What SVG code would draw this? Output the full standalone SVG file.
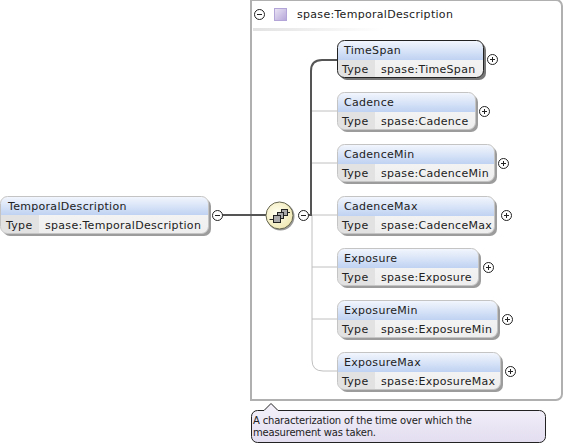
<svg xmlns="http://www.w3.org/2000/svg" width="564" height="446" viewBox="0 0 564 446">
<defs>
<linearGradient id="h" x1="0" y1="0" x2="0" y2="1"><stop offset="0" stop-color="#f2f6fd"/><stop offset="1" stop-color="#bfd2f2"/></linearGradient>
<linearGradient id="b" x1="0" y1="0" x2="0" y2="1"><stop offset="0" stop-color="#f8f8f8"/><stop offset="1" stop-color="#eeeeee"/></linearGradient>
<radialGradient id="s" cx="0.4" cy="0.4" r="0.7"><stop offset="0" stop-color="#fffff0"/><stop offset="1" stop-color="#efe6ae"/></radialGradient>
<linearGradient id="p" x1="0" y1="0" x2="1" y2="1"><stop offset="0" stop-color="#ebe5f5"/><stop offset="1" stop-color="#b4a5d8"/></linearGradient>
<linearGradient id="n" x1="0" y1="0" x2="0" y2="1"><stop offset="0" stop-color="#f4f1fa"/><stop offset="1" stop-color="#e3ddf0"/></linearGradient>
<linearGradient id="f" x1="0" y1="0" x2="1" y2="0"><stop offset="0" stop-color="#e2e2e2"/><stop offset="1" stop-color="#ffffff"/></linearGradient>
</defs>
<style>
text{font-family:"DejaVu Sans",sans-serif;font-size:11px;fill:#222;letter-spacing:.3px}
.sh{fill:#9c9c9c}
.bd{fill:url(#b)}
.hd{fill:url(#h)}
.ty{fill:#e2e2e2}
.o{fill:none;stroke:#c4c4c4;stroke-width:1}
.ob{fill:none;stroke:#222;stroke-width:1}
.c{fill:none;stroke:#c0c0c0;stroke-width:1}
.cb{fill:none;stroke:#555;stroke-width:2}
.tg{fill:#fff;stroke:#222;stroke-width:1}
.m{stroke:#222;stroke-width:1;fill:none}
.nt{font-size:10px;letter-spacing:-.18px}
</style>
<path d="M251 -1V400H556a6 6 0 0 0 6-6V6a6 6 0 0 0-6-6H251" fill="#fff" stroke="#b0b0b0" stroke-width="2"/>
<rect x="253" y="28" width="130" height="3" fill="url(#f)"/>
<g id="connectors">
<path class="cb" d="M222 215H266"/>
<path class="c" d="M311 215H338"/>
<path class="c" d="M312 111H338M312 163H338M312 267H338M312 319H338"/>
<path class="c" d="M312 215V360Q312 371 323 371H338"/>
<path class="cb" d="M308 215H311V71Q311 60 322 60H338"/>
</g>
<g id="panel-title">
<circle class="tg" cx="259.500" cy="14.500" r="5"/><path class="m" d="M257 14.500H262"/>
<rect x="274.500" y="8.500" width="12" height="12" fill="url(#p)" stroke="#b4a5d8"/>
<text x="297" y="18">spase:TemporalDescription</text>
</g>
<g id="n-TemporalDescription">
<rect class="sh" x="3" y="199" width="208" height="37" rx="7"/>
<rect class="bd" x="0.500" y="196.500" width="208" height="37" rx="7"/>
<path class="hd" d="M1 215V203.500a6.500 6.500 0 0 1 6.500-6.500H201.500a6.500 6.500 0 0 1 6.500 6.500V215Z"/>
<path class="ty" d="M1 215H39V233H7.500a6.500 6.500 0 0 1-6.500-6.500Z"/>
<rect class="o" x="0.500" y="196.500" width="208" height="37" rx="7"/>
<text x="8" y="210">TemporalDescription</text><text x="6" y="229">Type</text><text x="45" y="229">spase:TemporalDescription</text>
<circle class="tg" cx="217.500" cy="215.500" r="5"/><path class="m" d="M215 215.500H220"/>
</g>
<g id="sequence">
<circle cx="280.500" cy="216.500" r="14" fill="#999"/>
<circle cx="279.500" cy="215.500" r="13.500" fill="url(#s)" stroke="#666650"/>
<path d="M269.500 219.500H273M281 214.500H283M287 212.500H290" stroke="#222"/>
<rect x="281.500" y="209.500" width="6" height="6" fill="#aaa" stroke="#222"/>
<rect x="277.500" y="212.500" width="6" height="6" fill="#aaa" stroke="#222"/>
<rect x="273.500" y="215.500" width="7" height="7" fill="#aaa" stroke="#222"/>
<circle class="tg" cx="303.500" cy="215.500" r="5"/><path class="m" d="M301 215.500H306"/>
</g>
<g id="n-TimeSpan">
<rect fill="#777" x="340" y="43" width="146" height="37" rx="7"/>
<rect class="bd" x="337.500" y="40.500" width="146" height="37" rx="7"/>
<path class="hd" d="M338 60V47.500a6.500 6.500 0 0 1 6.500-6.500H476.500a6.500 6.500 0 0 1 6.500 6.500V60Z"/>
<path class="ty" d="M338 60H375V77H344.500a6.500 6.500 0 0 1-6.500-6.500Z"/>
<rect class="ob" x="337.500" y="40.500" width="146" height="37" rx="7"/>
<text x="344" y="54">TimeSpan</text><text x="342" y="73">Type</text><text x="381" y="73">spase:TimeSpan</text>
<circle class="tg" cx="492.500" cy="59.500" r="5"/><path class="m" d="M490 59.500H495M492.500 57V62"/>
</g>
<g id="n-Cadence">
<rect class="sh" x="340" y="95" width="138" height="37" rx="7"/>
<rect class="bd" x="337.500" y="92.500" width="138" height="37" rx="7"/>
<path class="hd" d="M338 112V99.500a6.500 6.500 0 0 1 6.500-6.500H468.500a6.500 6.500 0 0 1 6.500 6.500V112Z"/>
<path class="ty" d="M338 112H375V129H344.500a6.500 6.500 0 0 1-6.500-6.500Z"/>
<rect class="o" x="337.500" y="92.500" width="138" height="37" rx="7"/>
<text x="344" y="106">Cadence</text><text x="342" y="125">Type</text><text x="381" y="125">spase:Cadence</text>
<circle class="tg" cx="484.500" cy="111.500" r="5"/><path class="m" d="M482 111.500H487M484.500 109V114"/>
</g>
<g id="n-CadenceMin">
<rect class="sh" x="340" y="147" width="157" height="37" rx="7"/>
<rect class="bd" x="337.500" y="144.500" width="157" height="37" rx="7"/>
<path class="hd" d="M338 164V151.500a6.500 6.500 0 0 1 6.500-6.500H487.500a6.500 6.500 0 0 1 6.500 6.500V164Z"/>
<path class="ty" d="M338 164H375V181H344.500a6.500 6.500 0 0 1-6.500-6.500Z"/>
<rect class="o" x="337.500" y="144.500" width="157" height="37" rx="7"/>
<text x="344" y="158">CadenceMin</text><text x="342" y="177">Type</text><text x="381" y="177">spase:CadenceMin</text>
<circle class="tg" cx="503.500" cy="163.500" r="5"/><path class="m" d="M501 163.500H506M503.500 161V166"/>
</g>
<g id="n-CadenceMax">
<rect class="sh" x="340" y="199" width="157" height="37" rx="7"/>
<rect class="bd" x="337.500" y="196.500" width="157" height="37" rx="7"/>
<path class="hd" d="M338 216V203.500a6.500 6.500 0 0 1 6.500-6.500H487.500a6.500 6.500 0 0 1 6.500 6.500V216Z"/>
<path class="ty" d="M338 216H375V233H344.500a6.500 6.500 0 0 1-6.500-6.500Z"/>
<rect class="o" x="337.500" y="196.500" width="157" height="37" rx="7"/>
<text x="344" y="210">CadenceMax</text><text x="342" y="229">Type</text><text x="381" y="229">spase:CadenceMax</text>
<circle class="tg" cx="506.500" cy="215.500" r="5"/><path class="m" d="M504 215.500H509M506.500 213V218"/>
</g>
<g id="n-Exposure">
<rect class="sh" x="340" y="251" width="141" height="37" rx="7"/>
<rect class="bd" x="337.500" y="248.500" width="141" height="37" rx="7"/>
<path class="hd" d="M338 268V255.500a6.500 6.500 0 0 1 6.500-6.500H471.500a6.500 6.500 0 0 1 6.500 6.500V268Z"/>
<path class="ty" d="M338 268H375V285H344.500a6.500 6.500 0 0 1-6.500-6.500Z"/>
<rect class="o" x="337.500" y="248.500" width="141" height="37" rx="7"/>
<text x="344" y="262">Exposure</text><text x="342" y="281">Type</text><text x="381" y="281">spase:Exposure</text>
<circle class="tg" cx="488.500" cy="267.500" r="5"/><path class="m" d="M486 267.500H491M488.500 265V270"/>
</g>
<g id="n-ExposureMin">
<rect class="sh" x="340" y="303" width="160" height="37" rx="7"/>
<rect class="bd" x="337.500" y="300.500" width="160" height="37" rx="7"/>
<path class="hd" d="M338 320V307.500a6.500 6.500 0 0 1 6.500-6.500H490.500a6.500 6.500 0 0 1 6.500 6.500V320Z"/>
<path class="ty" d="M338 320H375V337H344.500a6.500 6.500 0 0 1-6.500-6.500Z"/>
<rect class="o" x="337.500" y="300.500" width="160" height="37" rx="7"/>
<text x="344" y="314">ExposureMin</text><text x="342" y="333">Type</text><text x="381" y="333">spase:ExposureMin</text>
<circle class="tg" cx="507.500" cy="319.500" r="5"/><path class="m" d="M505 319.500H510M507.500 317V322"/>
</g>
<g id="n-ExposureMax">
<rect class="sh" x="340" y="355" width="163" height="37" rx="7"/>
<rect class="bd" x="337.500" y="352.500" width="163" height="37" rx="7"/>
<path class="hd" d="M338 372V359.500a6.500 6.500 0 0 1 6.500-6.500H493.500a6.500 6.500 0 0 1 6.500 6.500V372Z"/>
<path class="ty" d="M338 372H375V389H344.500a6.500 6.500 0 0 1-6.500-6.500Z"/>
<rect class="o" x="337.500" y="352.500" width="163" height="37" rx="7"/>
<text x="344" y="366">ExposureMax</text><text x="342" y="385">Type</text><text x="381" y="385">spase:ExposureMax</text>
<circle class="tg" cx="510.500" cy="371.500" r="5"/><path class="m" d="M508 371.500H513M510.500 369V374"/>
</g>
<g id="note">
<path d="M264 410.500L271 403.500L278 410.500H539.500a6 6 0 0 1 6 6V436.500a6 6 0 0 1-6 6H257.500a6 6 0 0 1-6-6V416.500a6 6 0 0 1 6-6Z" fill="url(#n)" stroke="#222"/>
<text class="nt" x="253" y="424">A characterization of the time over which the</text>
<text class="nt" x="253" y="436">measurement was taken.</text>
</g>
</svg>
